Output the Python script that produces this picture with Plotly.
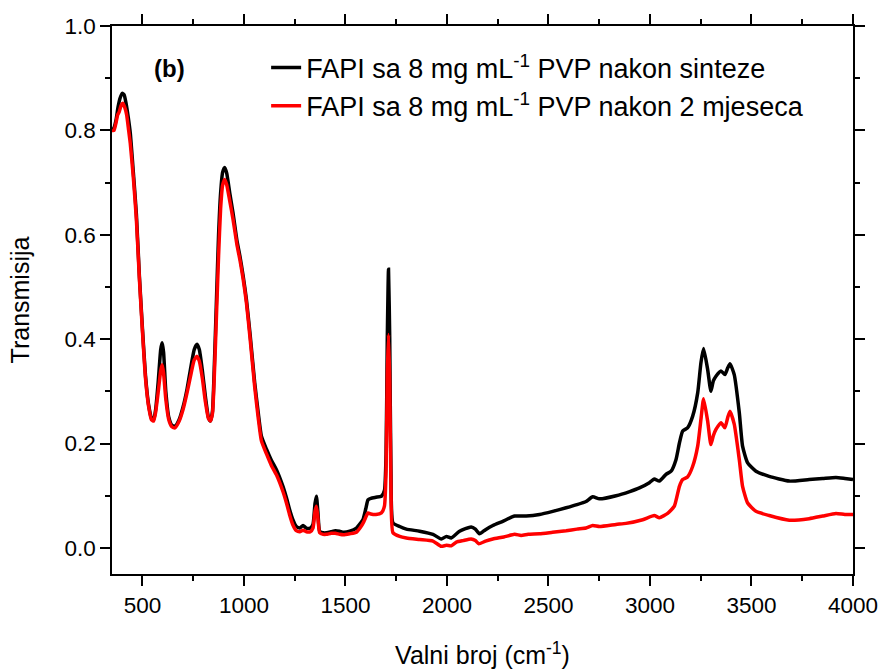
import plotly.graph_objects as go

# Wavenumber (cm^-1) and transmission values
x_fresh = [350, 360, 370, 380, 390, 400, 410, 420, 430, 440, 455, 470, 485, 500, 515, 530, 545, 555,
           565, 578, 590, 597, 604, 615, 630, 645, 660, 680, 700, 720, 740, 755, 769, 780, 795, 810,
           825, 835, 845, 855, 865, 875, 885, 895, 905, 915, 930, 946, 965, 980, 996, 1012, 1030,
           1053, 1070, 1086, 1111, 1135, 1160, 1192, 1210, 1225, 1240, 1258, 1275, 1291, 1307, 1327,
           1340, 1350, 1357, 1364, 1373, 1390, 1406, 1430, 1450, 1471, 1490, 1521, 1554, 1575, 1586,
           1600, 1611, 1625, 1650, 1677, 1692, 1700, 1706, 1712, 1718, 1724, 1734, 1767, 1800, 1865,
           1931, 1972, 1997, 2021, 2062, 2119, 2140, 2160, 2190, 2226, 2275, 2333, 2390, 2456, 2521,
           2587, 2640, 2685, 2718, 2751, 2833, 2900, 2948, 2997, 3021, 3046, 3079, 3104, 3128, 3145,
           3161, 3185, 3210, 3235, 3251, 3264, 3284, 3300, 3312, 3325, 3350, 3369, 3383, 3394, 3415,
           3440, 3456, 3481, 3522, 3587, 3686, 3784, 3850, 3916, 3960, 4000]
t_fresh = [0.800, 0.805, 0.820, 0.845, 0.862, 0.871, 0.868, 0.850, 0.825, 0.795, 0.720, 0.640, 0.520,
           0.420, 0.330, 0.275, 0.248, 0.245, 0.265, 0.320, 0.380, 0.393, 0.375, 0.300, 0.250, 0.235,
           0.233, 0.245, 0.270, 0.305, 0.350, 0.380, 0.390, 0.380, 0.340, 0.290, 0.250, 0.243, 0.262,
           0.360, 0.480, 0.600, 0.680, 0.720, 0.729, 0.718, 0.680, 0.642, 0.590, 0.559, 0.521, 0.476,
           0.410, 0.316, 0.260, 0.214, 0.189, 0.168, 0.150, 0.118, 0.095, 0.073, 0.055, 0.041, 0.038,
           0.043, 0.038, 0.038, 0.045, 0.085, 0.099, 0.070, 0.032, 0.029, 0.029, 0.031, 0.033, 0.032,
           0.030, 0.032, 0.038, 0.048, 0.054, 0.075, 0.092, 0.095, 0.097, 0.099, 0.110, 0.180, 0.400,
           0.534, 0.400, 0.150, 0.048, 0.041, 0.036, 0.032, 0.026, 0.017, 0.022, 0.019, 0.032, 0.040,
           0.036, 0.027, 0.035, 0.043, 0.051, 0.061, 0.061, 0.064, 0.070, 0.077, 0.083, 0.089, 0.098,
           0.094, 0.100, 0.108, 0.115, 0.125, 0.132, 0.128, 0.141, 0.147, 0.169, 0.201, 0.224, 0.230,
           0.252, 0.297, 0.355, 0.382, 0.342, 0.300, 0.320, 0.329, 0.339, 0.332, 0.345, 0.353, 0.332,
           0.259, 0.195, 0.163, 0.147, 0.137, 0.128, 0.131, 0.133, 0.135, 0.133, 0.131]

x_aged = [350, 360, 370, 378, 385, 395, 403, 412, 422, 432, 440, 455, 470, 485, 500, 515, 530, 545,
          555, 565, 578, 590, 597, 604, 615, 630, 645, 660, 680, 700, 720, 740, 755, 769, 780, 795,
          810, 825, 835, 845, 855, 865, 875, 885, 895, 905, 915, 930, 946, 965, 980, 996, 1012, 1030,
          1053, 1070, 1086, 1111, 1135, 1160, 1192, 1210, 1225, 1240, 1258, 1275, 1291, 1307, 1327,
          1340, 1350, 1357, 1364, 1373, 1390, 1406, 1430, 1450, 1471, 1490, 1521, 1554, 1575, 1590,
          1611, 1625, 1650, 1677, 1692, 1700, 1706, 1712, 1718, 1724, 1734, 1767, 1800, 1865, 1931,
          1972, 1997, 2021, 2046, 2080, 2119, 2140, 2157, 2190, 2226, 2280, 2333, 2365, 2400, 2456,
          2520, 2587, 2640, 2685, 2718, 2751, 2833, 2882, 2964, 3021, 3046, 3087, 3120, 3145, 3161,
          3185, 3210, 3235, 3252, 3264, 3284, 3300, 3312, 3325, 3350, 3369, 3383, 3394, 3415, 3440,
          3456, 3481, 3522, 3587, 3686, 3784, 3850, 3916, 3960, 4000]
t_aged = [0.800, 0.800, 0.815, 0.830, 0.835, 0.848, 0.852, 0.845, 0.830, 0.800, 0.775, 0.710, 0.630,
          0.515, 0.415, 0.325, 0.272, 0.245, 0.243, 0.260, 0.300, 0.340, 0.351, 0.335, 0.285, 0.245,
          0.232, 0.230, 0.242, 0.265, 0.298, 0.335, 0.360, 0.367, 0.358, 0.325, 0.280, 0.248, 0.243,
          0.258, 0.340, 0.450, 0.560, 0.650, 0.695, 0.706, 0.696, 0.665, 0.630, 0.582, 0.552, 0.515,
          0.470, 0.402, 0.308, 0.250, 0.205, 0.180, 0.158, 0.140, 0.108, 0.085, 0.063, 0.045, 0.033,
          0.031, 0.034, 0.031, 0.031, 0.038, 0.070, 0.080, 0.058, 0.029, 0.026, 0.026, 0.028, 0.028,
          0.026, 0.025, 0.027, 0.030, 0.040, 0.050, 0.067, 0.065, 0.064, 0.067, 0.080, 0.150, 0.330,
          0.409, 0.320, 0.120, 0.029, 0.022, 0.019, 0.016, 0.013, 0.003, 0.005, 0.004, 0.011, 0.014,
          0.017, 0.014, 0.008, 0.013, 0.017, 0.021, 0.026, 0.024, 0.026, 0.027, 0.030, 0.033, 0.036,
          0.038, 0.043, 0.041, 0.045, 0.047, 0.054, 0.062, 0.058, 0.066, 0.080, 0.118, 0.131, 0.136,
          0.156, 0.195, 0.250, 0.286, 0.243, 0.198, 0.215, 0.227, 0.240, 0.230, 0.250, 0.262, 0.237,
          0.169, 0.118, 0.086, 0.070, 0.062, 0.053, 0.056, 0.061, 0.066, 0.064, 0.064]

series_names = ["FAPI sa 8 mg mL<sup>-1</sup> PVP nakon sinteze",
                "FAPI sa 8 mg mL<sup>-1</sup> PVP nakon 2 mjeseca"]
x_ticks = [500, 1000, 1500, 2000, 2500, 3000, 3500, 4000]
y_ticks = [0.0, 0.2, 0.4, 0.6, 0.8, 1.0]

FONT = "Arial, Liberation Sans, sans-serif"

fig = go.Figure()
fig.add_trace(go.Scatter(x=x_fresh, y=t_fresh, mode="lines", name=series_names[0],
                         line=dict(color="#000000", width=3.5, shape="spline", smoothing=0.5)))
fig.add_trace(go.Scatter(x=x_aged, y=t_aged, mode="lines", name=series_names[1],
                         line=dict(color="#ff0000", width=3.5, shape="spline", smoothing=0.5)))

axis_common = dict(showline=True, linecolor="black", linewidth=1.5, mirror="ticks",
                   ticks="outside", ticklen=10, tickwidth=1.5, tickcolor="black",
                   showgrid=False, zeroline=False,
                   tickfont=dict(family=FONT, size=22.5, color="black"))

fig.update_xaxes(range=[350, 4000], tickvals=x_ticks,
                 minor=dict(dtick=250, tick0=0, ticks="outside", ticklen=5, tickwidth=1.5,
                            tickcolor="black", showgrid=False),
                 title=dict(text="Valni broj (cm<sup>-1</sup>)", font=dict(family=FONT, size=25, color="black"),
                            standoff=30),
                 **axis_common)
fig.update_yaxes(range=[-0.05, 1.0], tickvals=y_ticks, tickformat=".1f",
                 minor=dict(dtick=0.1, tick0=0, ticks="outside", ticklen=5, tickwidth=1.5,
                            tickcolor="black", showgrid=False),
                 title=dict(text="Transmisija", font=dict(family=FONT, size=25, color="black"),
                            standoff=28),
                 **axis_common)

fig.add_annotation(text="<b>(b)</b>", xref="paper", yref="paper", x=0.077, y=0.922,
                   xanchor="center", yanchor="middle", showarrow=False,
                   font=dict(family=FONT, size=24, color="black"))

fig.update_layout(
    width=883, height=670,
    margin=dict(l=112, r=30, t=26, b=96, autoexpand=False),
    paper_bgcolor="white", plot_bgcolor="white",
    font=dict(family=FONT, color="black"),
    legend=dict(x=0.208, y=0.968, xanchor="left", yanchor="top",
                bgcolor="rgba(0,0,0,0)", borderwidth=0,
                font=dict(family=FONT, size=27, color="black"),
                tracegroupgap=0),
    showlegend=True,
)

fig.write_html("out.html", config={"displayModeBar": False},
               post_script="document.body.style.margin='0';document.body.style.overflow='hidden';")
